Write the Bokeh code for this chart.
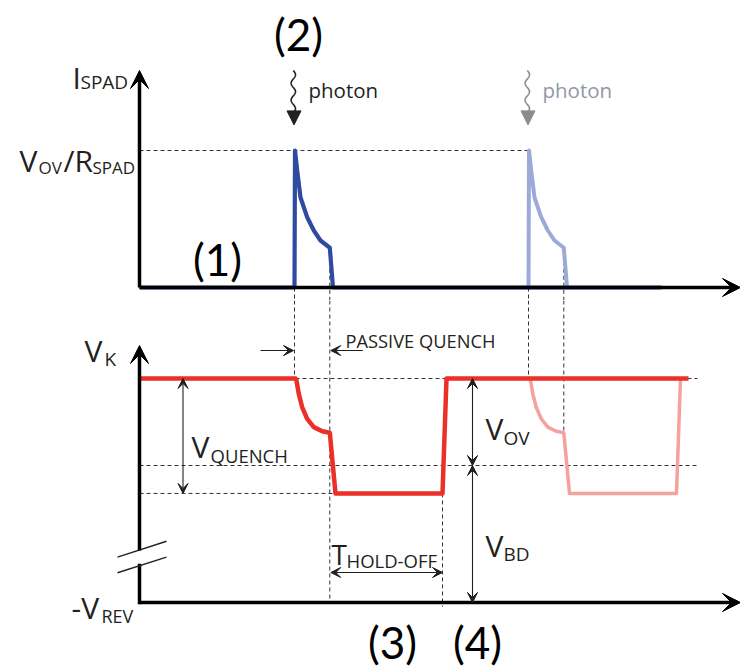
import numpy as np
from bokeh.plotting import figure
from bokeh.layouts import column
from bokeh.models import Range1d, Arrow, VeeHead, NormalHead
from bokeh.core.properties import value
from bokeh.embed import file_html
from bokeh.resources import INLINE

# ---------------------------------------------------------------------------
# Waveform data (time in arbitrary units, current normalised to V_OV/R_SPAD,
# cathode voltage normalised to V_BD)
# ---------------------------------------------------------------------------
photon_times = [15.5, 38.9]          # photon arrivals
t_end_current = 52.2                 # end of the drawn current trace
t_end_voltage = 54.9                 # end of the drawn voltage trace

# SPAD current pulse, relative to the photon arrival
pulse_dt = [0.0, 0.05, 0.27, 0.6, 1.27, 1.93, 2.6, 3.53, 3.85]
pulse_i = [0.0, 1.0, 0.854, 0.657, 0.513, 0.416, 0.343, 0.29, 0.0]

# cathode voltage V_K, relative to the photon arrival
volt_dt = [0.0, 0.1, 0.2, 0.43, 0.77, 1.27, 1.93, 2.77, 3.53, 4.1, 14.8, 15.2]
volt_v = [1.635, 1.635, 1.62, 1.523, 1.425, 1.341, 1.28, 1.25, 1.239, 0.796, 0.796, 1.635]

i_peak = 1.0        # V_OV / R_SPAD
v_bd = 1.0          # breakdown voltage
v_top = 1.635       # V_BD + V_OV
v_low = 0.796       # level after the quench

# ---------------------------------------------------------------------------
# Layout
# ---------------------------------------------------------------------------
W = 740
TOP_H, BOT_H = 300, 367
X0_PX, PX_PER_T = 139, 10.0
I_BASE_PX, PX_PER_I = 287, 137.0
V_BASE_PX, PX_PER_V = 302, 137.0

BLUE = "#2E4BA0"
BLUE_LIGHT = "#9DAAD9"
RED = "#EC2F27"
RED_LIGHT = "#F5A19C"
INK = "#231F20"
GREY = "#8C8C8C"
FONT = "Open Sans"
MAIN, SUB = 30, 19

x_range = Range1d(-X0_PX / PX_PER_T, (W - X0_PX) / PX_PER_T)
top_range = Range1d(-(TOP_H - I_BASE_PX) / PX_PER_I, I_BASE_PX / PX_PER_I)
bot_range = Range1d(-(BOT_H - V_BASE_PX) / PX_PER_V, V_BASE_PX / PX_PER_V)


def make_fig(h, yr):
    p = figure(width=W, height=h, x_range=x_range, y_range=yr,
               output_backend="svg", toolbar_location=None,
               x_axis_location=None, y_axis_location=None,
               min_border=0, outline_line_color=None,
               background_fill_color="white", border_fill_color="white")
    p.grid.visible = False
    return p


top = make_fig(TOP_H, top_range)
bot = make_fig(BOT_H, bot_range)


def to_data(panel, px, py):
    x = (px - X0_PX) / PX_PER_T
    if panel is top:
        return x, (I_BASE_PX - py) / PX_PER_I
    return x, (V_BASE_PX - (py - TOP_H)) / PX_PER_V


def put_text(panel, px, py, txt, size, color=INK, font=FONT,
             align="left", baseline="alphabetic"):
    x, y = to_data(panel, px, py)
    panel.text(x=[x], y=[y], text=[txt], text_font=value(font),
               text_font_size=f"{size}px", text_color=color,
               text_align=align, text_baseline=baseline)


def dashed(p, xs0, ys0, xs1, ys1):
    p.segment(x0=xs0, y0=ys0, x1=xs1, y1=ys1, line_color="#333333",
              line_width=1, line_dash="4 3")


def arrow(p, x0, y0, x1, y1, width=3.5, size=18, both=False, color="black"):
    head = dict(size=size, fill_color=color, line_color=color, line_width=1)
    p.add_layout(Arrow(x_start=x0, y_start=y0, x_end=x1, y_end=y1,
                       end=VeeHead(**head),
                       start=VeeHead(**head) if both else None,
                       line_color=color, line_width=width))


t1, t2 = photon_times
t_knee = [t + pulse_dt[-2] for t in photon_times]
t_hold_end = t1 + volt_dt[-2]
t_low_start = t1 + volt_dt[-3]
v_knee = volt_v[-4]
i_knee = pulse_i[-2]

# ---------------------------------------------------------------------------
# Top panel: SPAD current
# ---------------------------------------------------------------------------
top_bottom = top_range.start
dashed(top, [0], [i_peak], [t2 - 0.05], [i_peak])
dashed(top, [t1, t_knee[0], t2, t_knee[1]], [0, i_knee, 0, i_knee],
       [t1, t_knee[0], t2, t_knee[1]], [top_bottom] * 4)

# axes
arrow(top, 0, 0, x_range.end, 0)
arrow(top, 0, 0, 0, 1.584)

# second (greyed) pulse
top.line([t2 + d for d in pulse_dt], pulse_i, line_color=BLUE_LIGHT,
         line_width=4, line_join="round")
# first pulse and baseline
top.line([0] + [t1 + d for d in pulse_dt] + [t_end_current],
         [0] + pulse_i + [0], line_color=BLUE, line_width=4.2, line_join="round")

# photon squiggles
for tp, col, txt_col in [(t1, INK, INK), (t2, GREY, "#9098A6")]:
    s = np.linspace(0, 1, 120)
    top.line(tp - 0.12 + 0.22 * np.sin(2 * np.pi * 2.5 * s),
             1.584 - s * (1.584 - 1.275), line_color=col, line_width=1.6)
    top.add_layout(Arrow(x_start=tp - 0.05, y_start=1.29, x_end=tp - 0.05,
                         y_end=1.187, line_color=col, line_width=1.5,
                         end=NormalHead(size=14, fill_color=col,
                                        line_color=col)))
    top.text(x=[tp], y=[1.445], text=["photon"], x_offset=14,
             text_font=value(FONT), text_font_size="20.5px",
             text_color=txt_col, text_baseline="middle")

# axis labels
put_text(top, 72, 77, "I", MAIN)
put_text(top, 80, 81, "SPAD", SUB)
put_text(top, 19, 160, "V", MAIN)
put_text(top, 38, 167, "OV", 17)
put_text(top, 63, 160, "/R", MAIN)
put_text(top, 92, 167, "SPAD", 17)

put_text(top, 298, 33, "(2)", 44, color="black", font="Lato",
         align="center", baseline="middle")
put_text(top, 217, 258, "(1)", 44, color="black", font="Lato",
         align="center", baseline="middle")

# ---------------------------------------------------------------------------
# Bottom panel: cathode voltage
# ---------------------------------------------------------------------------
bot_top = bot_range.end
dashed(bot, [t1, t_knee[0], t2, t_knee[1]], [bot_top] * 4,
       [t1, t_knee[0], t2, t_knee[1]], [v_top, 0, v_top, v_knee])
dashed(bot, [t1 + 0.1, 0, 0, t_hold_end],
       [v_top, v_bd, v_low, v_low],
       [55.8, 55.8, t_low_start, t_hold_end],
       [v_top, v_bd, v_low, -0.03])

# axes with a break on the voltage axis
arrow(bot, 0, 0, x_range.end, 0)
bot.segment(x0=[0], y0=[0], x1=[0], y1=[0.27], line_color="black",
            line_width=3.5, line_cap="square")
arrow(bot, 0, 0.38, 0, 1.876)
bot.segment(x0=[-2.2, -2.2], y0=[0.331, 0.217], x1=[2.7, 2.7],
            y1=[0.447, 0.331], line_color="#222222", line_width=1.4)

# second (greyed) pulse drawn first, then the main trace on top
bot.line([t2 + d for d in volt_dt], volt_v, line_color=RED_LIGHT,
         line_width=3.5, line_join="round")
bot.line([0] + [t1 + d for d in volt_dt] + [t_end_voltage],
         [v_top] + volt_v + [v_top], line_color=RED, line_width=4.5,
         line_join="round")

# dimension arrows
arrow(bot, 4.35, v_low, 4.35, v_top, width=1.1, size=10, both=True, color=INK)
arrow(bot, 33.3, v_bd, 33.3, v_top, width=1.1, size=10, both=True, color=INK)
arrow(bot, 33.3, 0, 33.3, v_bd, width=1.1, size=10, both=True, color=INK)
arrow(bot, t_knee[0] + 0.1, 0.219, t_hold_end, 0.219, width=1.1, size=10,
      both=True, color=INK)
arrow(bot, t1 - 3.4, 1.839, t1 - 0.1, 1.839, width=1.1, size=10, color=INK)
arrow(bot, t_knee[0] + 3.3, 1.839, t_knee[0] + 0.1, 1.839, width=1.1,
      size=10, color=INK)

# labels
put_text(bot, 84, 350, "V", MAIN)
put_text(bot, 104, 358, "K", SUB)
put_text(bot, 71, 607, "-V", MAIN)
put_text(bot, 101, 615, "REV", 18)
put_text(bot, 191, 446, "V", MAIN)
put_text(bot, 210, 455, "QUENCH", 18.5)
put_text(bot, 485, 428, "V", MAIN)
put_text(bot, 503, 437, "OV", SUB)
put_text(bot, 485, 545, "V", MAIN)
put_text(bot, 503, 553, "BD", SUB)
put_text(bot, 331, 553, "T", 28)
put_text(bot, 346, 560, "HOLD-OFF", 18.5)
put_text(bot, 345, 340, "PASSIVE QUENCH", 18.3)

put_text(bot, 392, 641, "(3)", 44, color="black", font="Lato",
         align="center", baseline="middle")
put_text(bot, 477, 641, "(4)", 44, color="black", font="Lato",
         align="center", baseline="middle")

layout = column(top, bot, spacing=0)
open("out.html", "w").write(file_html(layout, INLINE))
